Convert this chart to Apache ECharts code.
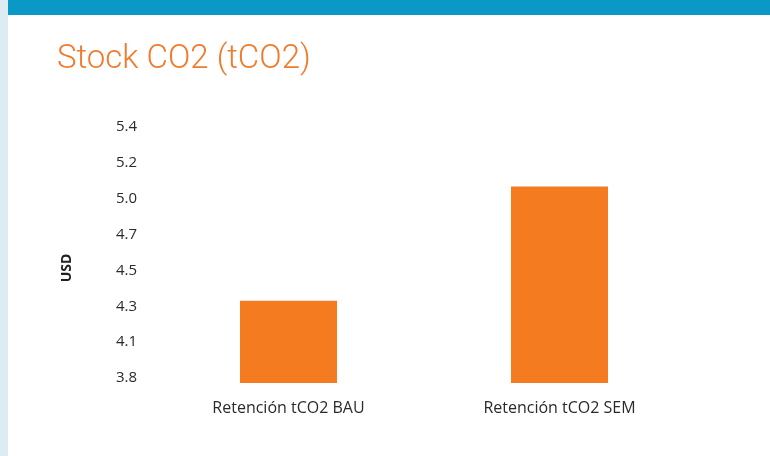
<!DOCTYPE html>
<html>
<head>
<meta charset="utf-8">
<script src="https://cdn.jsdelivr.net/npm/echarts@6/dist/echarts.min.js"></script>
<style>
  html, body { margin: 0; padding: 0; background: #fff; }
  #chart { width: 770px; height: 456px; }
</style>
</head>
<body>
<div id="chart"></div>
<script>
// categories and values
const categories = ['Retención tCO2 BAU', 'Retención tCO2 SEM']
const stockValues = [4.36, 5.08]
// axis ticks: 3.842 .. 5.424, step 0.226 (labels rounded to 1 decimal)
const yMin = 3.842
const yStep = 0.226
const yMax = 5.424

const chart = echarts.init(document.getElementById('chart'))

const option = {
    backgroundColor: '#ffffff',
    animation: false,
    graphic: [
        { type: 'rect', left: 0, top: 0, shape: { width: 8, height: 456 }, style: { fill: '#dcebf4' } },
        { type: 'rect', left: 8, top: 0, shape: { width: 762, height: 15 }, style: { fill: '#0a98c6' } },
        {
            type: 'text',
            x: 67,
            y: 268,
            rotation: Math.PI / 2,
            style: {
                text: 'USD',
                fontFamily: 'Open Sans',
                fontWeight: 'bold',
                fontSize: 14,
                fill: '#222222',
                align: 'center',
                verticalAlign: 'middle'
            }
        }
    ],
    title: {
        text: 'Stock CO2 (tCO2)',
        left: 52,
        top: 38,
        textStyle: {
            fontFamily: 'Roboto',
            fontWeight: 300,
            fontSize: 33,
            color: '#f07b2d'
        }
    },
    grid: {
        left: 153,
        right: 75,
        top: 132,
        bottom: 73
    },
    xAxis: {
        type: 'category',
        data: categories,
        axisLine: { show: false },
        axisTick: { show: false },
        axisLabel: {
            margin: 17,
            fontFamily: 'Open Sans',
            fontSize: 16,
            color: '#2a2a2a'
        }
    },
    yAxis: {
        type: 'value',
        min: yMin,
        max: yMax,
        interval: yStep,
        axisLine: { show: false },
        axisTick: { show: false },
        splitLine: { show: false },
        axisLabel: {
            margin: 16,
            fontFamily: 'Open Sans',
            fontSize: 15,
            color: '#2a2a2a',
            verticalAlign: 'bottom',
            lineHeight: 10,
            formatter: function (v) { return v.toFixed(1) }
        }
    },
    series: [
        {
            type: 'bar',
            data: stockValues,
            barWidth: 97,
            itemStyle: { color: '#f47b20' }
        }
    ]
}

chart.setOption(option)
</script>
</body>
</html>
